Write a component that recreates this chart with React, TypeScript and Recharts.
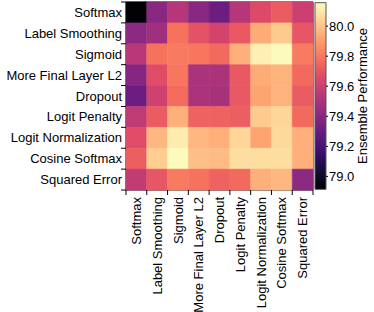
import { BarChart, Bar, Cell, XAxis, YAxis, ReferenceArea, Label } from 'recharts';

const methods = [
  'Softmax',
  'Label Smoothing',
  'Sigmoid',
  'More Final Layer L2',
  'Dropout',
  'Logit Penalty',
  'Logit Normalization',
  'Cosine Softmax',
  'Squared Error',
];

// one array per row (same order as methods), columns in the same order
const softmaxRow = [78.92, 79.4, 79.53, 79.4, 79.31, 79.53, 79.66, 79.72, 79.6];
const labelSmoothingRow = [79.41, 79.47, 79.79, 79.69, 79.62, 79.71, 79.94, 80.02, 79.7];
const sigmoidRow = [79.54, 79.79, 79.81, 79.8, 79.76, 79.95, 80.12, 80.15, 79.81];
const finalL2Row = [79.39, 79.67, 79.8, 79.5, 79.5, 79.71, 79.94, 79.96, 79.76];
const dropoutRow = [79.31, 79.61, 79.77, 79.5, 79.49, 79.71, 79.92, 79.96, 79.72];
const logitPenaltyRow = [79.56, 79.72, 79.95, 79.74, 79.74, 79.73, 80.02, 80.05, 79.76];
const logitNormRow = [79.67, 79.97, 80.11, 79.97, 79.95, 80.05, 79.92, 80.06, 79.95];
const cosineRow = [79.73, 80.03, 80.15, 79.99, 79.98, 80.07, 80.07, 80.07, 79.95];
const squaredErrorRow = [79.57, 79.7, 79.81, 79.79, 79.74, 79.76, 79.95, 79.97, 79.41];

const matrix = [
  softmaxRow,
  labelSmoothingRow,
  sigmoidRow,
  finalL2Row,
  dropoutRow,
  logitPenaltyRow,
  logitNormRow,
  cosineRow,
  squaredErrorRow,
];

const colorMin = 78.914;
const colorMax = 80.156;
const colorbarTicks = [79.0, 79.2, 79.4, 79.6, 79.8, 80.0];

// magma colormap anchors
const magma = [
  '#000004', '#140e36', '#3b0f70', '#641a80', '#8c2981', '#b73779',
  '#de4968', '#f7705c', '#fe9f6d', '#fecf92', '#fcfdbf',
];

const hex = (c: string) => [1, 3, 5].map((i) => parseInt(c.slice(i, i + 2), 16));

function magmaColor(v: number) {
  const t = Math.min(1, Math.max(0, (v - colorMin) / (colorMax - colorMin)));
  const p = t * (magma.length - 1);
  const i = Math.min(magma.length - 2, Math.floor(p));
  const f = p - i;
  const a = hex(magma[i]);
  const b = hex(magma[i + 1]);
  const rgb = a.map((x, k) => Math.round(x + (b[k] - x) * f));
  return `rgb(${rgb.join(',')})`;
}

// each cell is one unit of a stacked bar
const rows = methods.map((m) => {
  const r: Record<string, string | number> = { row: m };
  methods.forEach((_, j) => (r[`c${j}`] = 1));
  return r;
});

const xTicks = methods.flatMap((_, i) => [i, i + 0.5]).concat(methods.length);

const colorbarData = [{ name: 'cb', span: [colorMin, colorMax] }];

const font = '"Liberation Sans", Arial, sans-serif';

function XTick(props: any) {
  const { x, y, payload } = props;
  const v = payload.value as number;
  if (Number.isInteger(v)) {
    return <line x1={x} y1={y} x2={x} y2={y + 5} stroke="#000" strokeWidth={1} />;
  }
  const name = methods[Math.floor(v)];
  return (
    <text
      transform={`translate(${x},${y + 7}) rotate(-90)`}
      textAnchor="end"
      dy="0.35em"
      fontSize={13}
      fill="#000"
    >
      {name}
    </text>
  );
}

// row label plus tick marks on the band edges (half a band above / below)
function YTick(props: any) {
  const { x, y, payload, index } = props;
  const half = payload.offset || 0;
  const edge = x + 4;
  const last = index === methods.length - 1;
  return (
    <g>
      <line x1={edge - 5} y1={y - half} x2={edge} y2={y - half} stroke="#000" strokeWidth={1} />
      {last && <line x1={edge - 5} y1={y + half} x2={edge} y2={y + half} stroke="#000" strokeWidth={1} />}
      <text x={x} y={y} textAnchor="end" dy="0.35em" fontSize={13} fill="#000">
        {payload.value}
      </text>
    </g>
  );
}

function ColorbarTitle(props: any) {
  const vb = props.viewBox;
  const cx = vb.x + 36;
  const cy = vb.y + vb.height / 2;
  return (
    <text
      transform={`translate(${cx},${cy}) rotate(-90)`}
      textAnchor="middle"
      dy="0.35em"
      fontSize={13}
      fill="#000"
    >
      Ensemble Performance
    </text>
  );
}

export default function App() {
  return (
    <div style={{ position: 'absolute', left: 0, top: 0, width: 374, height: 312, fontFamily: font, background: '#fff' }}>
      <div style={{ position: 'absolute', left: 0, top: 0 }}>
        <BarChart
          width={374}
          height={312}
          data={rows}
          layout="vertical"
          barCategoryGap={0}
          margin={{ top: 2, right: 61, bottom: 0, left: 0 }}
        >
          <XAxis
            type="number"
            domain={[0, methods.length]}
            ticks={xTicks}
            interval={0}
            height={122}
            tickLine={false}
            axisLine={false}
            tickSize={0}
            tickMargin={0}
            tick={<XTick />}
          />
          <YAxis
            type="category"
            dataKey="row"
            width={126}
            interval={0}
            tickLine={false}
            axisLine={false}
            tickSize={0}
            tickMargin={4}
            tick={<YTick />}
          />
          {methods.map((_, j) => (
            <Bar key={j} dataKey={`c${j}`} stackId="h" isAnimationActive={false}>
              {matrix.map((row, i) => (
                <Cell key={i} fill={magmaColor(row[j])} stroke={magmaColor(row[j])} strokeWidth={0.5} />
              ))}
            </Bar>
          ))}
          <ReferenceArea x1={0} x2={methods.length} fill="none" stroke="#000" strokeWidth={1} />
        </BarChart>
      </div>
      <div style={{ position: 'absolute', left: 0, top: 0 }}>
        <BarChart
          width={374}
          height={312}
          data={colorbarData}
          barCategoryGap={0}
          margin={{ top: 2.7, right: 0, bottom: 122.7, left: 315 }}
        >
          <defs>
            <linearGradient id="magmaBar" x1="0" y1="1" x2="0" y2="0">
              {magma.map((c, i) => (
                <stop key={i} offset={i / (magma.length - 1)} stopColor={c} />
              ))}
            </linearGradient>
          </defs>
          <XAxis dataKey="name" hide />
          <YAxis
            orientation="right"
            type="number"
            domain={[colorMin, colorMax]}
            ticks={colorbarTicks}
            interval={0}
            width={48}
            tickSize={2}
            tickMargin={1}
            axisLine={false}
            stroke="#000"
            tickFormatter={(v: number) => v.toFixed(1)}
            tick={{ fill: '#000', fontSize: 13 }}
          >
            <Label content={ColorbarTitle} />
          </YAxis>
          <Bar dataKey="span" fill="url(#magmaBar)" stroke="#555" strokeWidth={1} isAnimationActive={false} />
        </BarChart>
      </div>
    </div>
  );
}
